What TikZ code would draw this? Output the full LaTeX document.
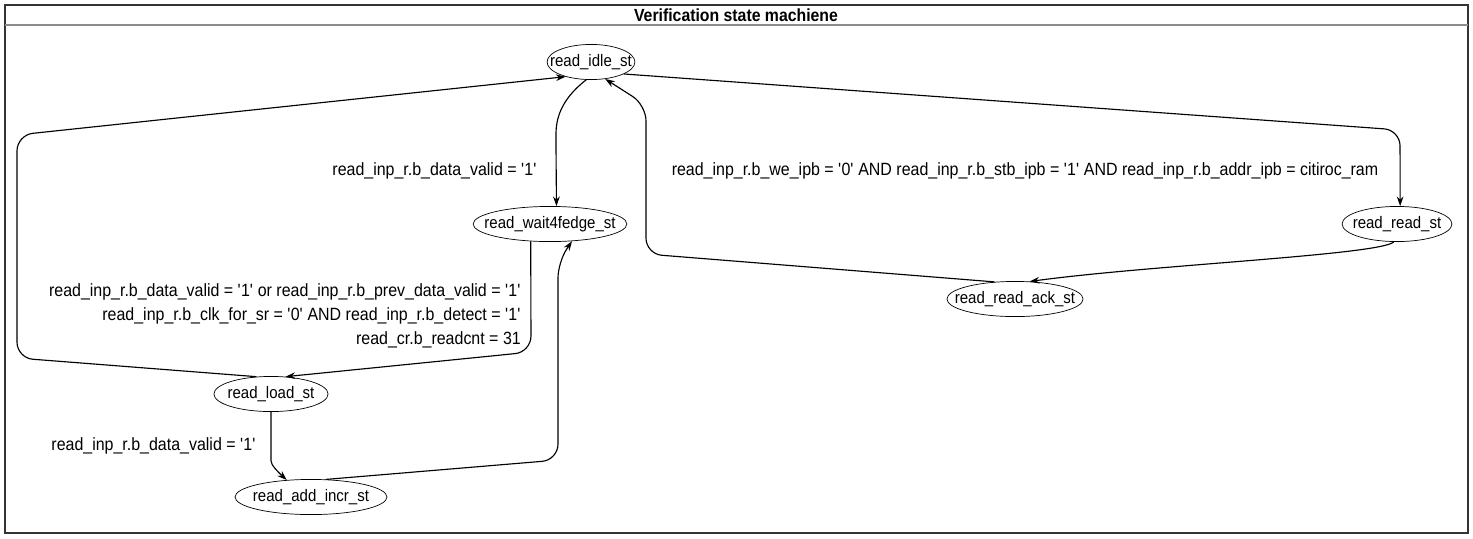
\documentclass[tikz,border=0pt]{standalone}
\usepackage{fontspec}
\setmainfont{Liberation Sans}[FakeStretch=0.9]
\usetikzlibrary{shapes.geometric, arrows.meta}

\newcommand{\qv}[1]{\textquotesingle#1\textquotesingle}

\begin{document}
\begin{tikzpicture}[x=0.02cm, y=-0.02cm,
    state/.style={ellipse, draw, thin, inner sep=-20pt, minimum height=20pt, font=\fontsize{9.5}{11}\selectfont},
    trans/.style={line width=0.65pt, -{Stealth[length=5.5pt, width=3.8pt]}, rounded corners=9pt},
    cond/.style={font=\fontsize{10.1}{13.5}\selectfont, anchor=east, align=right}]
  \useasboundingbox (0,0) rectangle (1473,538);
  % frame and title bar
  \draw[line width=1.2pt, color=black!80] (5,5) rectangle (1468,533);
  \draw[line width=1.2pt, color=black!45] (5,25) -- (1468,25);
  \node[font=\bfseries\fontsize{10}{11}\selectfont] (title) at (736,15) {Verification state machiene};

  % states
  \node[state, minimum width=50pt] (idle) at (591,62) {read\_idle\_st};
  \node[state, minimum width=87.5pt] (wait) at (550,224) {read\_wait4fedge\_st};
  \node[state, minimum width=62.5pt] (read) at (1397,224) {read\_read\_st};
  \node[state, minimum width=77.5pt] (ack) at (1015,299) {read\_read\_ack\_st};
  \node[state, minimum width=65pt] (load) at (271,394) {read\_load\_st};
  \node[state, minimum width=86.5pt] (incr) at (311,497) {read\_add\_incr\_st};

  % transitions
  \draw[trans] (idle.255) .. controls (560,100) and (556,120) .. (556,150) -- (wait.70);
  \draw[trans] (idle.340) -- (1400,130) -- (read.80);
  \draw[trans] (read.260) .. controls (1380,255) and (1150,265) .. (ack.50);
  \draw[trans] (ack.140) -- (646,254) -- (646,105) -- (idle.310);
  \draw[trans] (wait.222) -- (531,352) -- (load.50);
  \draw[trans] (load.130) -- (17,358) -- (17,135) -- (idle.210);
  \draw[trans] (load.270) -- (271,445) .. controls (271,465) and (278,472) .. (incr.145);
  \draw[trans] (incr.50) -- (558,460) -- (558,262) -- (wait.322);

  % conditions
  \node[cond] (c1) at (543,171) {read\_inp\_r.b\_data\_valid = \qv{1}};
  \node[cond, anchor=center] (c2) at (1025,171) {read\_inp\_r.b\_we\_ipb = \qv{0} AND read\_inp\_r.b\_stb\_ipb = \qv{1} AND read\_inp\_r.b\_addr\_ipb = citiroc\_ram};
  \node[cond] (c3) at (527,316) {read\_inp\_r.b\_data\_valid = \qv{1} or read\_inp\_r.b\_prev\_data\_valid = \qv{1}\\
    read\_inp\_r.b\_clk\_for\_sr = \qv{0} AND read\_inp\_r.b\_detect = \qv{1}\\
    read\_cr.b\_readcnt = 31};
  \node[cond] (c4) at (262,446) {read\_inp\_r.b\_data\_valid = \qv{1}};
\end{tikzpicture}
\end{document}
